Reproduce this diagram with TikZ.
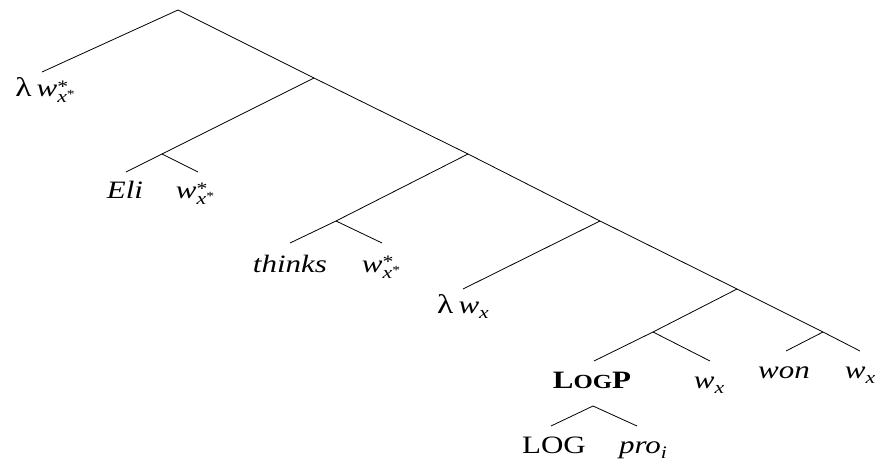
\documentclass[tikz,border=0pt]{standalone}
\usepackage{fontspec}
\setmainfont{Liberation Serif}
\usepackage{graphicx}
\newcommand{\hs}[1]{\scalebox{1.24}[1]{#1}}
\newcommand{\scr}{\fontsize{17.5}{17.5}\selectfont}
\newcommand{\sscr}{\fontsize{12.5}{12.5}\selectfont}
\newcommand{\lam}{{\fontsize{27}{27}\selectfont λ}}
\newcommand{\wstar}{\textit{w}\makebox[0pt][l]{\raisebox{4.5pt}{\scr *}}\raisebox{-6pt}{\scr\textit{x}\raisebox{4pt}{\sscr *}}}
\newcommand{\wx}{\textit{w}\raisebox{-5pt}{\scr\textit{x}}}
\begin{document}
\begin{tikzpicture}[x=1pt,y=-1pt,
  edge/.style={draw=black,line width=0.8pt},
  lbl/.style={inner sep=0pt,anchor=base,font=\fontsize{25}{29}\selectfont}]
\useasboundingbox (0,0) rectangle (877,462);
% spine and internal nodes
\coordinate (r) at (178,10);
\coordinate (s1) at (314,78);
\coordinate (s2) at (468,154);
\coordinate (s3) at (600,221);
\coordinate (s4) at (737,289);
\coordinate (s5) at (823,332);
\coordinate (e) at (162,154);
\coordinate (t) at (336,221);
\coordinate (l) at (653,332);
\coordinate (lb) at (593,406);
% leaf ends
\coordinate (a1) at (42,72);
\coordinate (e1) at (126,172);
\coordinate (e2) at (198,172);
\coordinate (t1) at (290,243);
\coordinate (t2) at (382,243);
\coordinate (a2) at (463,289);
\coordinate (l1) at (594,361);
\coordinate (l2) at (710,361);
\coordinate (w1) at (786,351);
\coordinate (w2) at (860,351);
\coordinate (b1) at (551,426);
\coordinate (b2) at (637,426);
% edges
\draw[edge] (a1) -- (r) -- (s1) -- (s2) -- (s3) -- (s4) -- (s5) -- (w2);
\draw[edge] (s1) -- (e);
\draw[edge] (e1) -- (e) -- (e2);
\draw[edge] (s2) -- (t);
\draw[edge] (t1) -- (t) -- (t2);
\draw[edge] (s3) -- (a2);
\draw[edge] (s4) -- (l);
\draw[edge] (l1) -- (l) -- (l2);
\draw[edge] (s5) -- (w1);
\draw[edge] (b1) -- (lb) -- (b2);
% labels
\node[lbl] (la1) at (45,97) {\hs{\lam\,\wstar}};
\node[lbl] (le1) at (125,199) {\hs{\textit{Eli}}};
\node[lbl] (le2) at (195,199) {\hs{\wstar}};
\node[lbl] (lt1) at (290,272) {\hs{\textit{thinks}}};
\node[lbl] (lt2) at (381,272) {\hs{\wstar}};
\node[lbl] (la2) at (463,313) {\hs{\lam\,\wx}};
\node[lbl] (ll1) at (592,388) {\hs{\textbf{L{\fontsize{20}{20}\selectfont OG}P}}};
\node[lbl] (ll2) at (709,388) {\hs{\wx}};
\node[lbl] (lw1) at (784,378) {\hs{\textit{won}}};
\node[lbl] (lw2) at (860,378) {\hs{\wx}};
\node[lbl] (lb1) at (554,453) {\hs{LOG}};
\node[lbl] (lb2) at (643,453) {\hs{\textit{pro}\raisebox{-5pt}{\scr\textit{i}}}};
\end{tikzpicture}
\end{document}
